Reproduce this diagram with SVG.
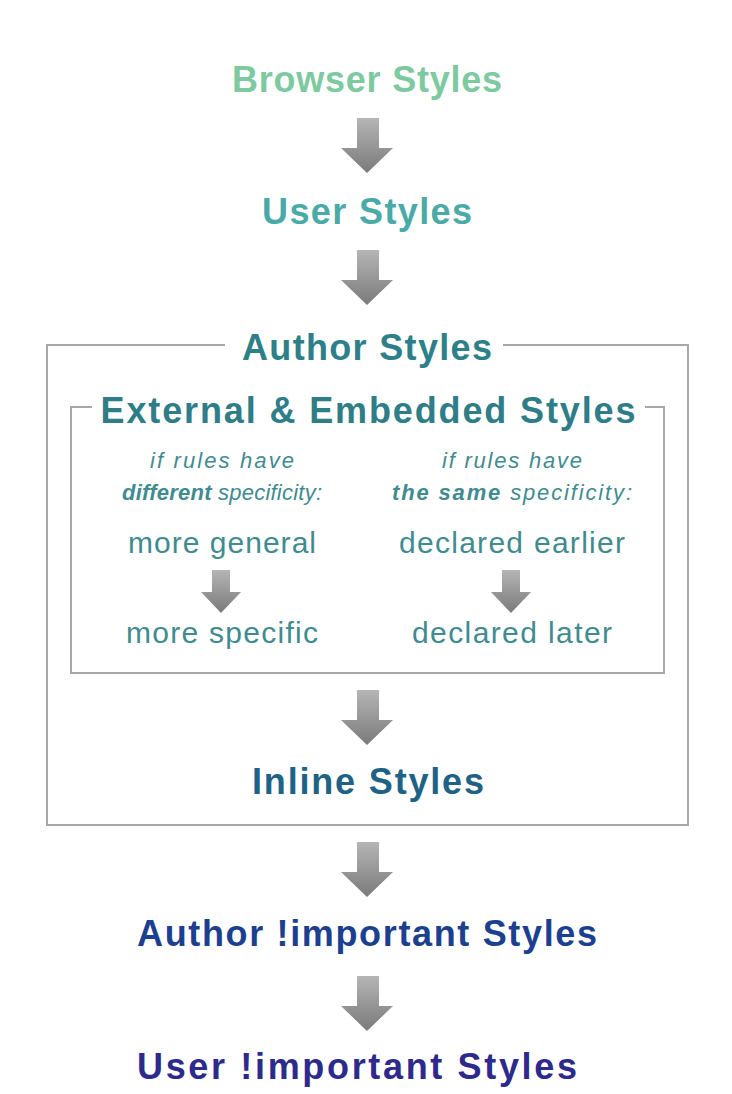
<svg xmlns="http://www.w3.org/2000/svg" width="732" height="1094" viewBox="0 0 732 1094">
<defs>
<linearGradient id="g" x1="0" y1="0" x2="0" y2="1"><stop offset="0" stop-color="#b5b5b5"/><stop offset="1" stop-color="#7a7a7a"/></linearGradient>
<style>
.t{font-family:"Liberation Sans",Arial,sans-serif;font-weight:bold;text-anchor:middle}
.s{font-family:"Liberation Sans",Arial,sans-serif;text-anchor:middle;fill:#3f8b90}
.i{font-family:"Liberation Sans",Arial,sans-serif;font-style:italic;text-anchor:middle;fill:#3f8b90;font-size:22px}
.a{fill:url(#g)}
.b{fill:none;stroke:#a8a8a8;stroke-width:2}
</style>
</defs>
<g id="frames">
<path class="b" d="M225,345 H47 V825 H688 V345 H503"/>
<path class="b" d="M92,407 H71 V673 H664 V407 H645"/>
</g>
<g id="connectors">
<path class="a" d="M357,118h22v30h14l-26,25l-26,-25h16z"/>
<path class="a" d="M357,250h22v30h14l-26,25l-26,-25h16z"/>
<path class="a" d="M357,690h22v30h14l-26,25l-26,-25h16z"/>
<path class="a" d="M357,842h22v30h14l-26,25l-26,-25h16z"/>
<path class="a" d="M357,976h22v30h14l-26,25l-26,-25h16z"/>
<path class="a" d="M212,570h18v22h11l-20,21l-20,-21h11z"/>
<path class="a" d="M502,570h18v22h11l-20,21l-20,-21h11z"/>
</g>
<g id="browser"><text class="t" x="367" y="92" font-size="36" fill="#7dc9a0" textLength="270">Browser Styles</text></g>
<g id="user"><text class="t" x="367" y="224" font-size="36" fill="#4aaaa7" textLength="210">User Styles</text></g>
<g id="author"><text class="t" x="367" y="360" font-size="36" fill="#2e8088" textLength="250">Author Styles</text></g>
<g id="external"><text class="t" x="368" y="423" font-size="36" fill="#2e7d87" textLength="535">External &amp; Embedded Styles</text></g>
<g id="left">
<text class="i" x="222" y="468" textLength="144">if rules have</text>
<text class="i" x="222" y="500" textLength="200"><tspan font-weight="bold">different</tspan> specificity:</text>
<text class="s" x="222" y="553" font-size="30" textLength="188">more general</text>
<text class="s" x="222" y="643" font-size="30" textLength="192">more specific</text>
</g>
<g id="right">
<text class="i" x="512" y="468" textLength="140">if rules have</text>
<text class="i" x="512" y="500" textLength="240"><tspan font-weight="bold">the same</tspan> specificity:</text>
<text class="s" x="512" y="553" font-size="30" textLength="226">declared earlier</text>
<text class="s" x="512" y="643" font-size="30" textLength="200">declared later</text>
</g>
<g id="inline"><text class="t" x="368" y="794" font-size="36" fill="#1e6286" textLength="232">Inline Styles</text></g>
<g id="authorimp"><text class="t" x="367" y="946" font-size="36" fill="#1d3f8f" textLength="460">Author !important Styles</text></g>
<g id="userimp"><text class="t" x="357" y="1079" font-size="36" fill="#2d2a8c" textLength="440">User !important Styles</text></g>
</svg>
